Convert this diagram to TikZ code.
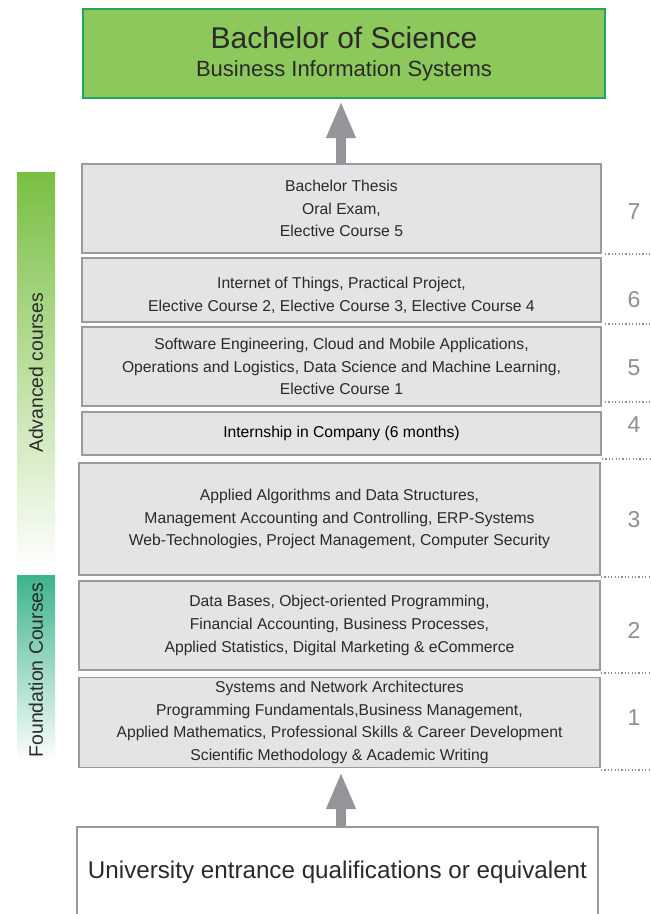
\documentclass[tikz,border=0pt]{standalone}
\usepackage{fontspec}
\setmainfont{Liberation Sans}
\usetikzlibrary{arrows.meta}
\definecolor{topgreen}{HTML}{8DC85C}
\definecolor{topborder}{HTML}{25A262}
\definecolor{boxfill}{HTML}{E3E4E6}
\definecolor{boxline}{HTML}{9A9A9C}
\definecolor{arrowgray}{HTML}{939598}
\definecolor{txt}{HTML}{2A2A2A}
\definecolor{numgray}{HTML}{8E8E8E}
\definecolor{advgreen}{HTML}{79BF42}
\definecolor{fndteal}{HTML}{3DB48A}
\tikzset{
  coursebox/.style={draw=boxline, line width=1.1pt, fill=boxfill, inner sep=0pt,
    align=center, text=txt, font=\fontsize{15.7}{22.7}\selectfont},
  levelnum/.style={text=numgray, font=\fontsize{23}{26}\selectfont, inner sep=0pt},
  dotline/.style={draw=numgray, line width=1.2pt, dash pattern=on 1.2pt off 2.2pt},
  uparrow/.style={draw=arrowgray, line width=9.5pt, -{Triangle[width=27pt,length=37pt]}},
  sidelabel/.style={rotate=90, text=txt, font=\fontsize{19.4}{22}\selectfont, inner sep=0pt}
}
\begin{document}
\begin{tikzpicture}[x=1pt,y=-1pt]
\clip (0,0) rectangle (651,914);
\fill[white] (0,0) rectangle (651,914);

% top degree box
\node[draw=topborder, line width=1.3pt, fill=topgreen, minimum width=522pt, minimum height=89pt,
      inner sep=0pt, align=center, text=txt, font=\fontsize{22}{28}\selectfont] (top) at (344,53.5)
  {{\fontsize{30}{30}\selectfont Bachelor of Science}\\Business Information Systems};

% side bars
\node[minimum width=38pt, minimum height=398pt, inner sep=0pt, top color=advgreen, bottom color=white, draw=none] (advbar) at (36,371) {};
\node[sidelabel] (advlabel) at (36,373) {Advanced courses};
\node[minimum width=38pt, minimum height=187pt, inner sep=0pt, top color=fndteal, bottom color=white, draw=none] (fndbar) at (36,668.5) {};
\node[sidelabel] (fndlabel) at (36,670) {Foundation Courses};

% course boxes
\node[coursebox, minimum width=519pt, minimum height=89pt] (c7) at (341.5,208.5)
  {Bachelor Thesis\\Oral Exam,\\Elective Course 5};
\node[coursebox, minimum width=519pt, minimum height=64pt] (c6) at (341.5,290) {};
\node[align=center, text=txt, font=\fontsize{15.7}{22.7}\selectfont, inner sep=0pt] (c6t) at (341.5,295.5)
  {Internet of Things, Practical Project,\\Elective Course 2, Elective Course 3, Elective Course 4};
\node[coursebox, minimum width=519pt, minimum height=79pt] (c5) at (341.5,366.5)
  {Software Engineering, Cloud and Mobile Applications,\\Operations and Logistics, Data Science and Machine Learning,\\Elective Course 1};
\node[coursebox, minimum width=519pt, minimum height=43pt, text=black] (c4) at (341.5,433.5)
  {Internship in Company (6 months)};
\node[coursebox, minimum width=521pt, minimum height=112pt] (c3) at (339.5,519)
  {Applied Algorithms and Data Structures,\\Management Accounting and Controlling, ERP-Systems\\Web-Technologies, Project Management, Computer Security};
\node[coursebox, minimum width=521pt, minimum height=89pt] (c2) at (339.5,625.5)
  {Data Bases, Object-oriented Programming,\\Financial Accounting, Business Processes,\\Applied Statistics, Digital Marketing \& eCommerce};
\node[coursebox, minimum width=521pt, minimum height=90pt] (c1) at (339.5,722.5)
  {Systems and Network Architectures\\Programming Fundamentals,Business Management,\\Applied Mathematics, Professional Skills \& Career Development\\Scientific Methodology \& Academic Writing};

% entrance box (cut off at bottom)
\draw[draw=boxline, line width=1.1pt] (77,935) -- (77,827) -- (598,827) -- (598,935);
\node[text=txt, font=\fontsize{24.2}{28}\selectfont, inner sep=0pt] (entry) at (337.5,872) {University entrance qualifications or equivalent};

% arrows
\coordinate (a1s) at (341,827);
\coordinate (a1e) at (341,772);
\coordinate (a2s) at (341,163.5);
\coordinate (a2e) at (341,101);
\draw[uparrow] (a1s) -- (a1e);
\draw[uparrow] (a2s) -- (a2e);

% level numbers
\node[levelnum] (n7) at (634,212) {7};
\node[levelnum] (n6) at (634,300) {6};
\node[levelnum] (n5) at (634,368) {5};
\node[levelnum] (n4) at (634,425) {4};
\node[levelnum] (n3) at (634,520) {3};
\node[levelnum] (n2) at (634,630) {2};
\node[levelnum] (n1) at (634,718) {1};

% dotted separators
\draw[dotline] (605,254) -- (651,254);
\draw[dotline] (605,324) -- (651,324);
\draw[dotline] (605,402) -- (651,402);
\draw[dotline] (602,459) -- (651,459);
\draw[dotline] (601,577) -- (651,577);
\draw[dotline] (601,673) -- (651,673);
\draw[dotline] (601,770) -- (651,770);
\end{tikzpicture}
\end{document}
